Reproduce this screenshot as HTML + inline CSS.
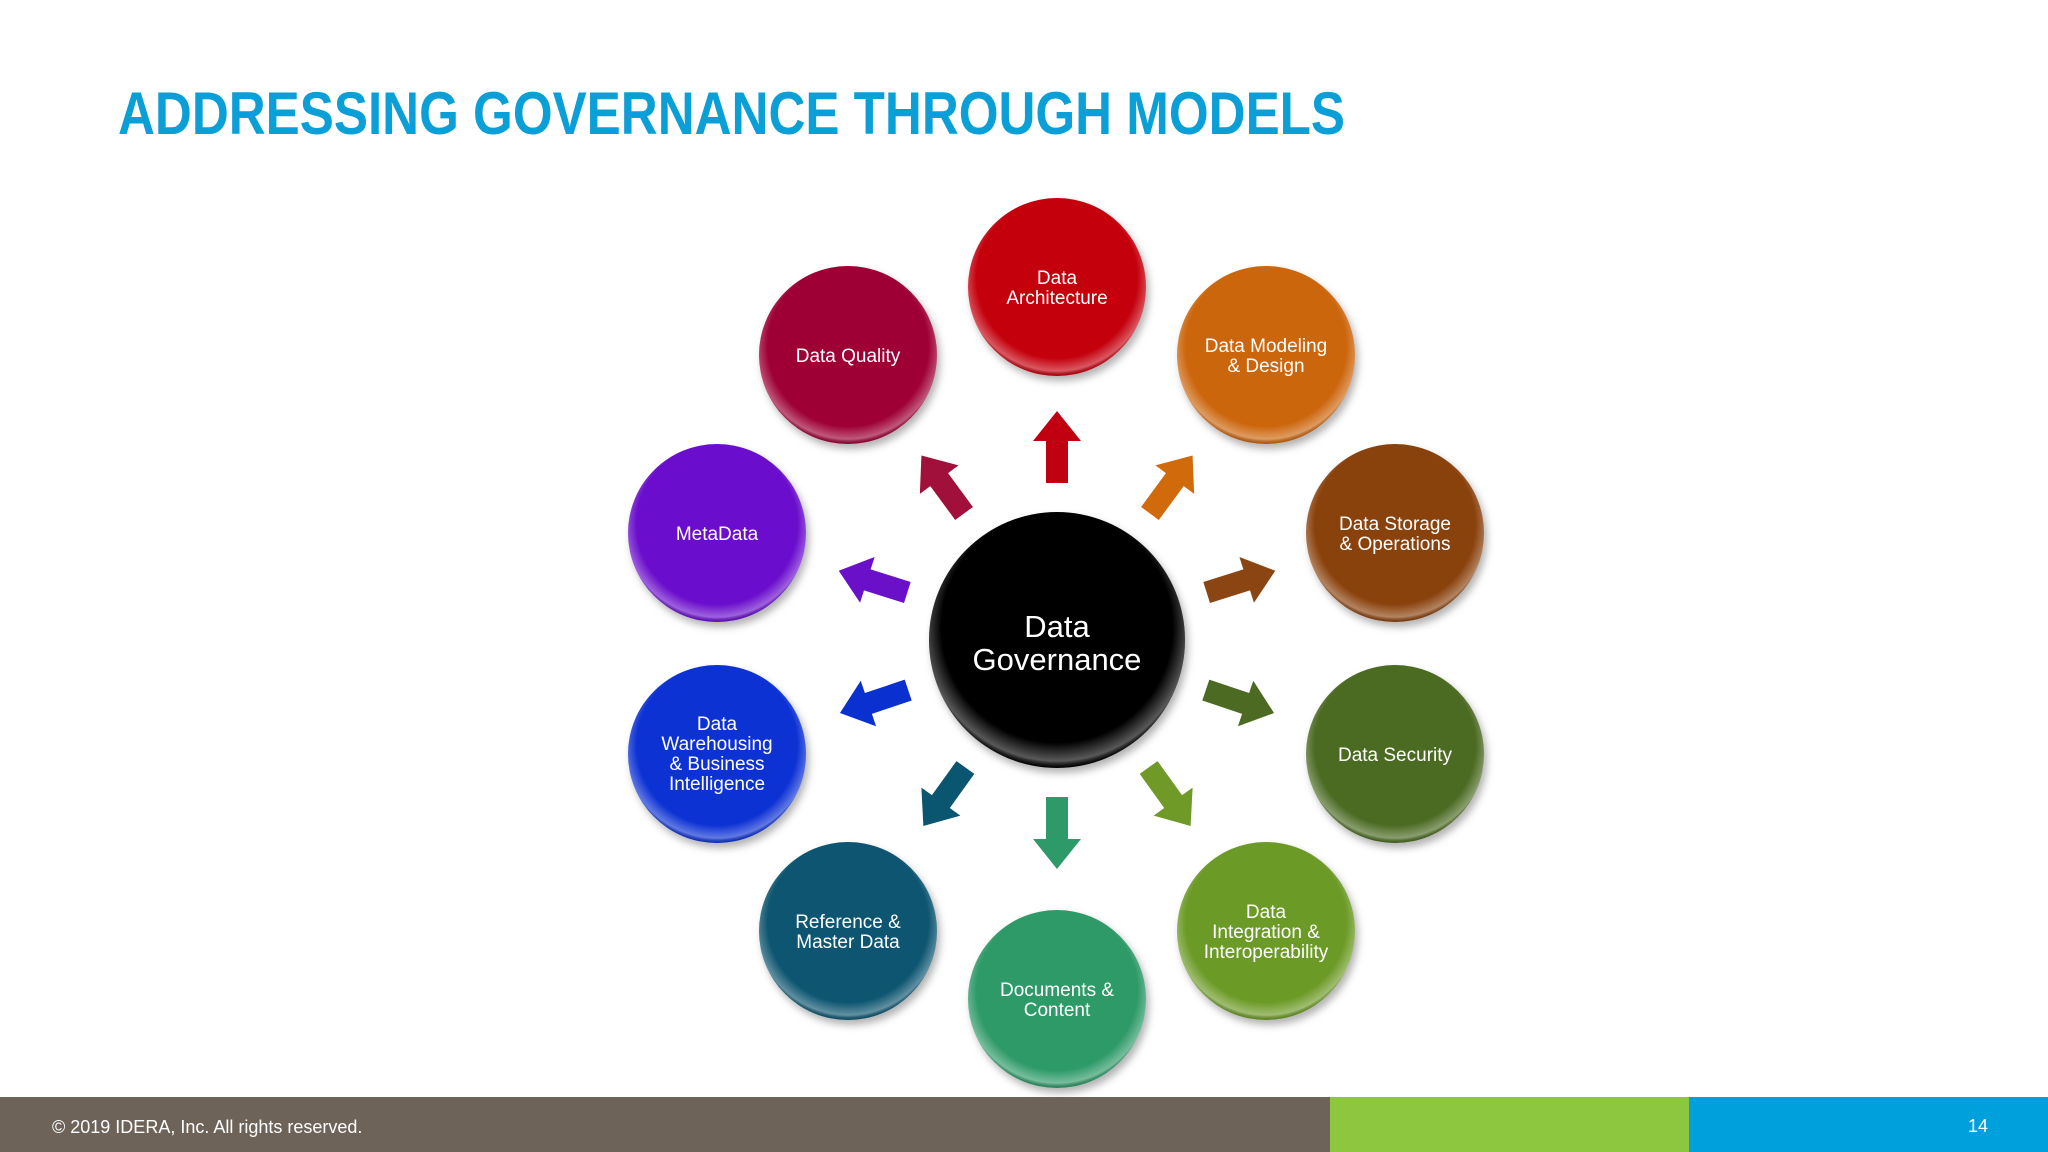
<!DOCTYPE html>
<html><head><meta charset="utf-8"><style>
html,body{margin:0;padding:0;background:#fff;}
body{width:2048px;height:1152px;position:relative;overflow:hidden;font-family:"Liberation Sans",sans-serif;}
svg{position:absolute;left:0;top:0;}
</style></head><body>
<svg width="2048" height="1152" viewBox="0 0 2048 1152">
<defs>
<radialGradient id="gl" cx="0.5" cy="0.45" r="0.55">
<stop offset="0.82" stop-color="#fff" stop-opacity="0"/>
<stop offset="0.95" stop-color="#fff" stop-opacity="0.35"/>
<stop offset="1" stop-color="#000" stop-opacity="0.15"/>
</radialGradient>
<filter id="sh" x="-20%" y="-20%" width="140%" height="140%"><feDropShadow dx="3" dy="5" stdDeviation="4" flood-color="#000" flood-opacity="0.3"/></filter>
</defs>
<text x="118" y="134" font-family="Liberation Sans, sans-serif" font-weight="bold" font-size="60" fill="#0a9fd6" textLength="1227" lengthAdjust="spacingAndGlyphs">ADDRESSING GOVERNANCE THROUGH MODELS</text>

<g transform="translate(1057,640)">
<g fill="#c00010" transform="rotate(-90) translate(193,0)"><path d="M-36,-11 L6,-11 L6,-24 L36,0 L6,24 L6,11 L-36,11 Z"/></g>
<g fill="#d06a0a" transform="rotate(-53.7) translate(193,0)"><path d="M-36,-11 L6,-11 L6,-24 L36,0 L6,24 L6,11 L-36,11 Z"/></g>
<g fill="#8a4512" transform="rotate(-17.6) translate(193,0)"><path d="M-36,-11 L6,-11 L6,-24 L36,0 L6,24 L6,11 L-36,11 Z"/></g>
<g fill="#4d6a22" transform="rotate(18.6) translate(193,0)"><path d="M-36,-11 L6,-11 L6,-24 L36,0 L6,24 L6,11 L-36,11 Z"/></g>
<g fill="#6f9a28" transform="rotate(54.3) translate(193,0)"><path d="M-36,-11 L6,-11 L6,-24 L36,0 L6,24 L6,11 L-36,11 Z"/></g>
<g fill="#2e9a6a" transform="rotate(90) translate(193,0)"><path d="M-36,-11 L6,-11 L6,-24 L36,0 L6,24 L6,11 L-36,11 Z"/></g>
<g fill="#0a5570" transform="rotate(125.7) translate(193,0)"><path d="M-36,-11 L6,-11 L6,-24 L36,0 L6,24 L6,11 L-36,11 Z"/></g>
<g fill="#0a30d0" transform="rotate(161.4) translate(193,0)"><path d="M-36,-11 L6,-11 L6,-24 L36,0 L6,24 L6,11 L-36,11 Z"/></g>
<g fill="#6a10c8" transform="rotate(-162.4) translate(193,0)"><path d="M-36,-11 L6,-11 L6,-24 L36,0 L6,24 L6,11 L-36,11 Z"/></g>
<g fill="#a0103a" transform="rotate(-126.3) translate(193,0)"><path d="M-36,-11 L6,-11 L6,-24 L36,0 L6,24 L6,11 L-36,11 Z"/></g>
</g>

<g font-family="Liberation Sans, sans-serif" font-size="19" fill="#fff" text-anchor="middle">
<g filter="url(#sh)">
<circle cx="1057" cy="640" r="128" fill="#050505"/>
<circle cx="1057" cy="287" r="89" fill="#c4000c"/>
<circle cx="1266" cy="355" r="89" fill="#cc660c"/>
<circle cx="1395" cy="533" r="89" fill="#8a420c"/>
<circle cx="1395" cy="754" r="89" fill="#4b6a22"/>
<circle cx="1266" cy="931" r="89" fill="#6c9a26"/>
<circle cx="1057" cy="999" r="89" fill="#2f9a68"/>
<circle cx="848" cy="931" r="89" fill="#0a5570"/>
<circle cx="717" cy="754" r="89" fill="#0a32d4"/>
<circle cx="717" cy="533" r="89" fill="#6a10cc"/>
<circle cx="848" cy="355" r="89" fill="#9e0036"/>
</g>
<g fill="url(#gl)">
<circle cx="1057" cy="640" r="128"/><circle cx="1057" cy="287" r="89"/><circle cx="1266" cy="355" r="89"/><circle cx="1395" cy="533" r="89"/><circle cx="1395" cy="754" r="89"/><circle cx="1266" cy="931" r="89"/><circle cx="1057" cy="999" r="89"/><circle cx="848" cy="931" r="89"/><circle cx="717" cy="754" r="89"/><circle cx="717" cy="533" r="89"/><circle cx="848" cy="355" r="89"/>
</g>
<text x="1057" y="637" font-size="31">Data</text>
<text x="1057" y="670" font-size="31">Governance</text>
<text x="1057" y="284">Data</text><text x="1057" y="304">Architecture</text>
<text x="1266" y="352">Data Modeling</text><text x="1266" y="372">&amp; Design</text>
<text x="1395" y="530">Data Storage</text><text x="1395" y="550">&amp; Operations</text>
<text x="1395" y="761">Data Security</text>
<text x="1266" y="918">Data</text><text x="1266" y="938">Integration &amp;</text><text x="1266" y="958">Interoperability</text>
<text x="1057" y="996">Documents &amp;</text><text x="1057" y="1016">Content</text>
<text x="848" y="928">Reference &amp;</text><text x="848" y="948">Master Data</text>
<text x="717" y="730">Data</text><text x="717" y="750">Warehousing</text><text x="717" y="770">&amp; Business</text><text x="717" y="790">Intelligence</text>
<text x="717" y="540">MetaData</text>
<text x="848" y="362">Data Quality</text>
</g>

<rect x="0" y="1097" width="1330" height="55" fill="#6e6359"/>
<rect x="1330" y="1097" width="359" height="55" fill="#8dc63f"/>
<rect x="1689" y="1097" width="359" height="55" fill="#00a0dc"/>
<text x="52" y="1133" font-family="Liberation Sans, sans-serif" font-size="18" fill="#fff">© 2019 IDERA, Inc. All rights reserved.</text>
<text x="1978" y="1132" font-family="Liberation Sans, sans-serif" font-size="18" fill="#fff" text-anchor="middle">14</text>
</svg>
</body></html>
